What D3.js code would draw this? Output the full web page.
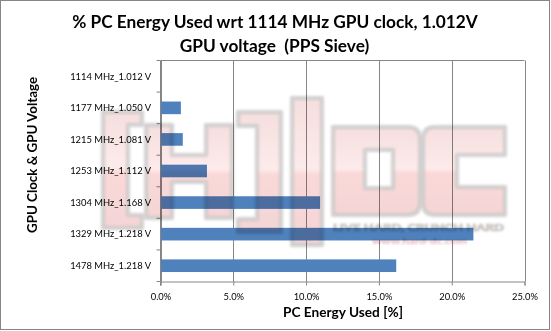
<!DOCTYPE html>
<html>
<head>
<meta charset="utf-8">
<script src="https://cdn.jsdelivr.net/npm/d3@7"></script>
<style>
  html, body { margin: 0; padding: 0; background: #fff; }
  svg { display: block; }
  text { font-family: Lato, "Open Sans", "Liberation Sans", sans-serif; fill: #000; white-space: pre; }
</style>
</head>
<body>
<svg id="chart" width="551" height="331"></svg>
<script>
// GPU clock / voltage steps and the extra PC energy each one costs
const categories = [
  "1114 MHz_1.012 V",
  "1177 MHz_1.050 V",
  "1215 MHz_1.081 V",
  "1253 MHz_1.112 V",
  "1304 MHz_1.168 V",
  "1329 MHz_1.218 V",
  "1478 MHz_1.218 V"
];
const energyUsed = [0.0, 1.40, 1.53, 3.19, 10.96, 21.49, 16.19];
const xTickValues = [0, 5, 10, 15, 20, 25];

const titleLines = ["% PC Energy Used wrt 1114 MHz GPU clock, 1.012V", "GPU voltage  (PPS Sieve)"];
const xTitle = "PC Energy Used [%]";
const yTitle = "GPU Clock & GPU Voltage";

const svg = d3.select("#chart");
const W = 551, H = 331;
const plot = { left: 160.5, right: 524.5, top: 60.5, bottom: 281.5 };
const axisGrey = "#868686";
const barBlue = "#4f81bd";

svg.append("rect").attr("width", W).attr("height", H).attr("fill", "#fff");

// Chart frame
svg.append("rect")
  .attr("x", 0.5).attr("y", 0.5).attr("width", 549).attr("height", 329)
  .attr("fill", "none").attr("stroke", axisGrey).attr("stroke-width", 1);

const x = d3.scaleLinear().domain([0, 25]).range([plot.left, plot.right]);
const y = d3.scaleBand().domain(categories).range([plot.top, plot.bottom])
  .paddingInner(0.6).paddingOuter(0.3);

// scale a text's font size so it spans the given width
function fitWidth(sel, width) {
  const node = sel.node();
  const fs = parseFloat(sel.attr("font-size"));
  const w = node.getComputedTextLength();
  sel.attr("font-size", (fs * width / w).toFixed(2));
  return fs * width / w;
}

// Vertical gridlines
svg.append("g").selectAll("line").data(xTickValues).join("line")
  .attr("x1", d => Math.round(x(d)) + 0.5).attr("x2", d => Math.round(x(d)) + 0.5)
  .attr("y1", plot.top).attr("y2", plot.bottom)
  .attr("stroke", axisGrey).attr("stroke-width", 1);

// Top border of the plot area
svg.append("line")
  .attr("x1", plot.left).attr("x2", plot.right)
  .attr("y1", plot.top).attr("y2", plot.top)
  .attr("stroke", axisGrey);

// Bars
svg.append("g").selectAll("rect").data(categories).join("rect")
  .attr("x", x(0))
  .attr("y", d => y(d))
  .attr("width", (d, i) => x(energyUsed[i]) - x(0))
  .attr("height", y.bandwidth())
  .attr("fill", barBlue);

// X axis
const xAxis = svg.append("g")
  .attr("transform", `translate(0,${plot.bottom})`)
  .call(d3.axisBottom(x).tickValues(xTickValues).tickSize(4).tickPadding(8)
    .tickFormat(d => d3.format(".1f")(d) + "%"));
xAxis.select(".domain").attr("stroke", axisGrey);
xAxis.selectAll(".tick line").attr("stroke", axisGrey);
xAxis.selectAll(".tick text").attr("font-size", 10).attr("fill", "#000")
  .style("font-family", "Lato, sans-serif");
{
  const t = xAxis.select(".tick:last-of-type text");
  const k = fitWidth(t, 26);
  xAxis.selectAll(".tick text").attr("font-size", k.toFixed(2));
}

// Y axis: ticks sit on category boundaries
const yAxis = svg.append("g").attr("transform", `translate(${plot.left},0)`);
yAxis.append("line")
  .attr("x1", 0).attr("x2", 0).attr("y1", plot.top).attr("y2", plot.bottom + 4)
  .attr("stroke", axisGrey);
const step = y.step();
yAxis.selectAll("line.tk").data(d3.range(categories.length + 1)).join("line")
  .attr("class", "tk")
  .attr("x1", -4).attr("x2", 0)
  .attr("y1", i => plot.top + i * step).attr("y2", i => plot.top + i * step)
  .attr("stroke", axisGrey);
const yLabels = svg.append("g").selectAll("text").data(categories).join("text")
  .attr("x", 151)
  .attr("y", d => y(d) + y.bandwidth() / 2)
  .attr("dy", "0.35em")
  .attr("text-anchor", "end")
  .attr("font-size", 10)
  .text(d => d);
{
  const k = fitWidth(d3.select(yLabels.nodes()[0]), 81);
  yLabels.attr("font-size", k.toFixed(2));
}

// Titles
const t1 = svg.append("text").attr("x", 275).attr("y", 28)
  .attr("text-anchor", "middle").attr("font-weight", "bold").attr("font-size", 16)
  .text(titleLines[0]);
const tfs = fitWidth(t1, 406);
svg.append("text").attr("x", 274.5).attr("y", 52)
  .attr("text-anchor", "middle").attr("font-weight", "bold").attr("font-size", tfs.toFixed(2))
  .attr("xml:space", "preserve")
  .text(titleLines[1]);

const xt = svg.append("text").attr("x", 343).attr("y", 317)
  .attr("text-anchor", "middle").attr("font-weight", "bold").attr("font-size", 12)
  .text(xTitle);
fitWidth(xt, 120);

const yt = svg.append("text")
  .attr("transform", "translate(36.5,155) rotate(-90)")
  .attr("text-anchor", "middle").attr("font-weight", "bold").attr("font-size", 12)
  .text(yTitle);
fitWidth(yt, 156);

// Site watermark laid over the plot
const defs = svg.append("defs");
const grad = defs.append("linearGradient").attr("id", "wmFill")
  .attr("x1", 0).attr("x2", 0).attr("y1", 0).attr("y2", 1);
grad.append("stop").attr("offset", "0%").attr("stop-color", "#f3d6d6");
grad.append("stop").attr("offset", "48%").attr("stop-color", "#fde6e6");
grad.append("stop").attr("offset", "52%").attr("stop-color", "#f9cfcf");
grad.append("stop").attr("offset", "100%").attr("stop-color", "#f1caca");
defs.append("filter").attr("id", "soft")
  .append("feGaussianBlur").attr("stdDeviation", 1.1);

const wm = svg.append("g").attr("filter", "url(#soft)")
  .style("mix-blend-mode", "multiply");

const blocks = [
  // [
  "M103,112 H142 V125 H128 V215 H142 V228 H103 Z",
  // H
  "M146,125 H172 V155 H206 V125 H232 V218 H206 V182 H172 V218 H146 Z",
  // ]
  "M238,112 H281 V232 H238 V219 H257 V126 H238 Z",
  // |
  "M292,98 H322 V245 H292 Z",
  // D
  "M333,127 H408 Q420,127 420,139 V203 Q420,215 408,215 H333 Z M365,150 V188 H393 V150 Z",
  // C
  "M435,127 H505 V155 H457 V187 H505 V215 H435 Q423,215 423,203 V139 Q423,127 435,127 Z"
];
wm.selectAll("path").data(blocks).join("path")
  .attr("d", d => d)
  .attr("fill", "url(#wmFill)")
  .attr("fill-rule", "evenodd")
  .attr("fill-opacity", 0.8)
  .attr("stroke", "#c6c6c6")
  .attr("stroke-width", 4.5)
  .attr("stroke-opacity", 0.7)
  .attr("stroke-linejoin", "round");

const slogan = wm.append("text").attr("x", 418.5).attr("y", 231)
  .attr("text-anchor", "middle").attr("font-weight", 900).attr("font-size", 9)
  .attr("textLength", 171).attr("lengthAdjust", "spacingAndGlyphs")
  .style("fill", "#ddd4c6").attr("stroke", "#c2c2c2").attr("stroke-width", 0.7)
  .text("LIVE HARD, CRUNCH HARD");
const url = wm.append("text").attr("x", 419.5).attr("y", 244)
  .attr("text-anchor", "middle").attr("font-weight", "bold").attr("font-size", 7.5)
  .attr("textLength", 95).attr("lengthAdjust", "spacingAndGlyphs")
  .style("fill", "#eaa9a9")
  .text("www.hard-dc.com");
</script>
</body>
</html>
